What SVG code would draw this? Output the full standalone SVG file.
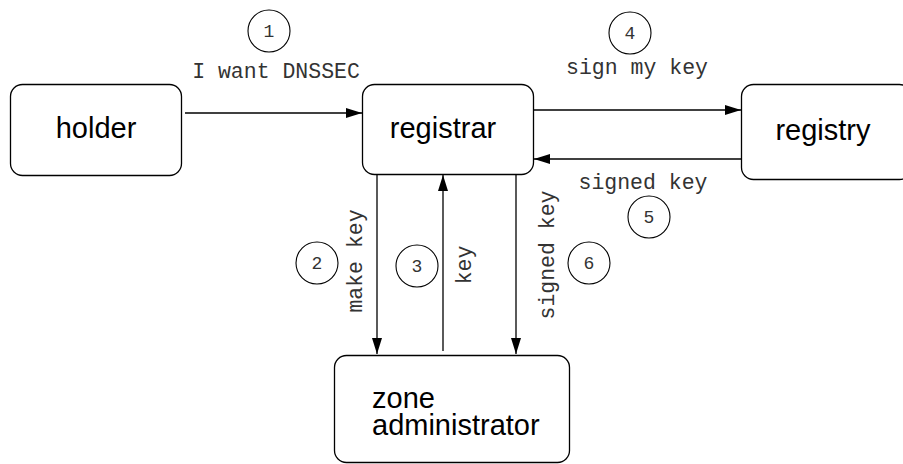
<svg xmlns="http://www.w3.org/2000/svg" width="903" height="464" viewBox="0 0 903 464">
  <style>
    .box { fill: #ffffff; stroke: #000000; stroke-width: 1.3; }
    .node { font-family: "Liberation Sans", Arial, sans-serif; font-size: 29px; fill: #000000; }
    .lbl { font-family: "Liberation Mono", "Courier New", monospace; font-size: 21.5px; fill: #333333; }
    .num { font-family: "Liberation Mono", "Courier New", monospace; font-size: 18px; fill: #333333; text-anchor: middle; }
    .step { fill: none; stroke: #000000; stroke-width: 1.1; }
    .wire { fill: none; stroke: #000000; stroke-width: 1.3; marker-end: url(#head); }
  </style>
  <defs>
    <marker id="head" viewBox="0 0 16 10" refX="16" refY="5" markerWidth="16" markerHeight="10" markerUnits="userSpaceOnUse" orient="auto">
      <path d="M0,0 L16,5 L0,10 Z" fill="#000000"/>
    </marker>
  </defs>
  <rect width="903" height="464" fill="#ffffff"/>

  <g id="holder">
    <rect class="box" x="10.5" y="84.5" width="171" height="91" rx="12"/>
    <text class="node" x="96" y="138" text-anchor="middle">holder</text>
  </g>
  <g id="registrar">
    <rect class="box" x="362.5" y="84.5" width="171" height="90" rx="12"/>
    <text class="node" x="443" y="138" text-anchor="middle">registrar</text>
  </g>
  <g id="registry">
    <rect class="box" x="741.5" y="84.5" width="170" height="95" rx="12"/>
    <text class="node" x="823" y="140" text-anchor="middle">registry</text>
  </g>
  <g id="zone-administrator">
    <rect class="box" x="334.5" y="355.5" width="235" height="107" rx="12"/>
    <text class="node" x="372" y="408">zone<tspan x="372" dy="27">administrator</tspan></text>
  </g>

  <g id="connectors">
    <line class="wire" x1="185" y1="113" x2="362" y2="113"/>
    <line class="wire" x1="534" y1="110" x2="741" y2="110"/>
    <line class="wire" x1="741" y1="159" x2="534" y2="159"/>
    <line class="wire" x1="377" y1="175" x2="377" y2="354"/>
    <line class="wire" x1="443" y1="351" x2="443" y2="175"/>
    <line class="wire" x1="516" y1="175" x2="516" y2="354"/>
  </g>

  <g id="labels">
    <text class="lbl" x="276" y="78" text-anchor="middle">I want DNSSEC</text>
    <text class="lbl" x="637" y="74" text-anchor="middle">sign my key</text>
    <text class="lbl" x="643" y="189" text-anchor="middle">signed key</text>
    <text class="lbl" transform="translate(362,261) rotate(-90)" text-anchor="middle">make key</text>
    <text class="lbl" transform="translate(471,265) rotate(-90)" text-anchor="middle">key</text>
    <text class="lbl" transform="translate(554,255) rotate(-90)" text-anchor="middle">signed key</text>
  </g>

  <g id="steps">
    <circle class="step" cx="269" cy="31" r="21"/>
    <text class="num" x="269" y="37">1</text>
    <circle class="step" cx="317" cy="263" r="21"/>
    <text class="num" x="317" y="269">2</text>
    <circle class="step" cx="417" cy="266" r="21"/>
    <text class="num" x="417" y="272">3</text>
    <circle class="step" cx="630" cy="33" r="21"/>
    <text class="num" x="630" y="39">4</text>
    <circle class="step" cx="649" cy="217" r="21"/>
    <text class="num" x="649" y="223">5</text>
    <circle class="step" cx="589" cy="263" r="21"/>
    <text class="num" x="589" y="269">6</text>
  </g>
</svg>
